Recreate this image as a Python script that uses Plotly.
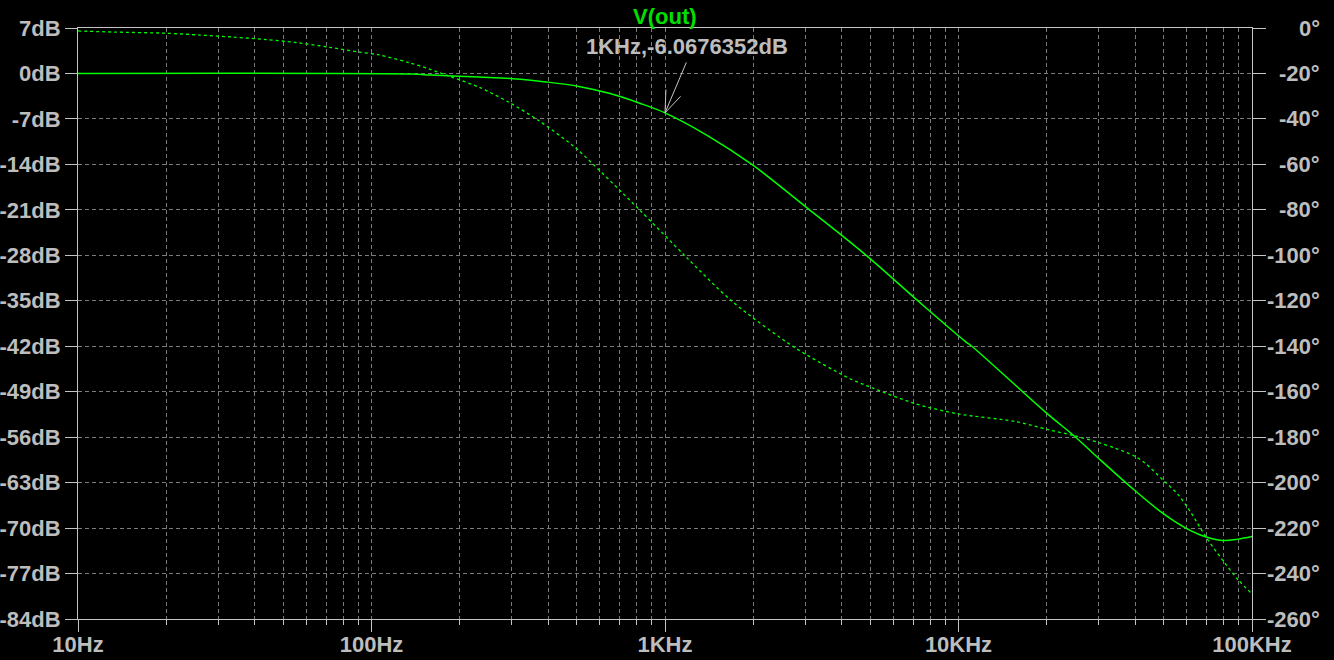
import plotly.graph_objects as go

# ---- data ----
mag_freq = [10, 137, 160, 233, 303, 393, 509, 650, 816, 1000, 1400, 1982, 3010, 4817, 7310,
            10540, 11100, 19960, 24900, 29900, 39600, 49600, 59500, 69000, 79200,
            89600, 100000]
mag_db = [0.0, -0.1, -0.25, -0.55, -0.8, -1.3, -2.0, -3.1, -4.55, -6.07, -9.6, -14.05, -20.5,
          -27.9, -35.1, -41.25, -42.0, -52.3, -55.9, -59.2, -64.1, -67.7, -70.0,
          -71.3, -71.9, -71.7, -71.3]

ph_freq = [10, 13.4, 20, 26, 33.7, 43.8, 55.5, 71.9, 91, 106, 134, 157, 185, 233,
           294, 372, 470, 509, 816, 1175, 1694, 2784, 4226, 4940, 7125, 10000,
           15600, 20200, 24900, 29900, 34100, 39600, 43200, 49600, 56000, 62100,
           69500, 79200, 89600, 100000]
ph_deg = [-1.3, -1.8, -2.3, -3.1, -4.0, -5.1, -6.4, -8.5, -10.6, -11.8, -15.2,
          -18.0, -21.3, -26.1, -32.7, -40.8, -50.3, -54.0, -79.8, -100.5, -120.3,
          -140.8, -154.0, -157.7, -165.3, -169.8, -173.1, -176.7, -179.4, -182.3,
          -184.8, -188.2, -191.4, -198.7, -205.3, -213.4, -223.7, -233.9, -242.7,
          -249.0]

x_major = [10, 100, 1000, 10000, 100000]
x_labels = ["10Hz", "100Hz", "1KHz", "10KHz", "100KHz"]
db_ticks = [7, 0, -7, -14, -21, -28, -35, -42, -49, -56, -63, -70, -77, -84]
db_labels = ["7dB", "0dB", "-7dB", "-14dB", "-21dB", "-28dB", "-35dB", "-42dB",
             "-49dB", "-56dB", "-63dB", "-70dB", "-77dB", "-84dB"]
deg_ticks = [0, -20, -40, -60, -80, -100, -120, -140, -160, -180, -200, -220, -240, -260]
deg_labels = ["0°", "-20°", "-40°", "-60°", "-80°", "-100°", "-120°", "-140°",
              "-160°", "-180°", "-200°", "-220°", "-240°", "-260°"]
marker_freq = 1000
marker_db = -6.0676352
marker_text = "1KHz,-6.0676352dB"
title_text = "V(out)"

# ---- styling ----
GREEN = "#00ff00"
TXT = "#bdbdbd"
AXC = "#c4c4c4"
GRID = "#7a7a7a"
FONT = "Liberation Sans, Arial, sans-serif"

x_minor = [d * m for d in [10, 100, 1000, 10000] for m in range(2, 10)]

fig = go.Figure()
fig.add_trace(go.Scatter(x=mag_freq, y=mag_db, mode="lines", yaxis="y",
                         line=dict(color=GREEN, width=1.5, shape="spline", smoothing=1.0),
                         showlegend=False, hoverinfo="skip"))
fig.add_trace(go.Scatter(x=ph_freq, y=ph_deg, mode="lines", yaxis="y2",
                         line=dict(color=GREEN, width=1.3, dash="dot", shape="spline", smoothing=0.8),
                         showlegend=False, hoverinfo="skip"))

tickfont = dict(family=FONT, size=22, color=TXT, weight="bold")

fig.update_layout(
    width=1334, height=660,
    paper_bgcolor="black", plot_bgcolor="black",
    margin=dict(l=78, r=82, t=28, b=41, pad=0),
    showlegend=False,
    xaxis=dict(type="log", range=[1, 5], tickmode="array", tickvals=x_major,
               ticktext=x_labels, ticks="outside", ticklen=12, tickcolor=AXC, tickwidth=1,
               showline=True, linecolor=AXC, linewidth=1, mirror=True, automargin=False,
               showgrid=True, gridcolor=GRID, griddash="4px,3px", gridwidth=1,
               tickfont=tickfont, zeroline=False, ticklabelstandoff=-6,
               minor=dict(tickmode="array", tickvals=x_minor, ticks="outside", ticklen=5,
                          tickcolor=AXC, showgrid=True, gridcolor=GRID,
                          griddash="4px,3px", gridwidth=1)),
    yaxis=dict(range=[-84, 7], tickmode="array", tickvals=db_ticks, ticktext=db_labels,
               ticks="outside", ticklen=12, tickcolor=AXC, showline=True, linecolor=AXC,
               linewidth=1, showgrid=True, gridcolor=GRID, griddash="4px,3px",
               gridwidth=1, zeroline=False, tickfont=tickfont, automargin=False),
    yaxis2=dict(range=[-260, 0], overlaying="y", side="right", tickmode="array",
                tickvals=deg_ticks, ticktext=["" for _ in deg_ticks], ticks="outside",
                ticklen=13, tickcolor=AXC, showline=True, linecolor=AXC, linewidth=1,
                showgrid=False, zeroline=False, tickfont=tickfont, automargin=False),
)

# right-hand labels, right aligned like the reference
for v, t in zip(deg_ticks, deg_labels):
    fig.add_annotation(x=1, xref="paper", y=v, yref="y2", text=t, showarrow=False,
                       xanchor="right", xshift=70, font=tickfont)

# title
fig.add_annotation(x=0.5, xref="paper", y=1, yref="paper", text=title_text,
                   showarrow=False, yanchor="bottom", yshift=-3,
                   font=dict(family=FONT, size=22, color="#00e000", weight="bold"))

# cursor label with open arrow
lx = 3  # log10(marker_freq)
fig.add_annotation(x=lx, y=marker_db, xref="x", yref="y", text=marker_text,
                   showarrow=False, xshift=22, yshift=66,
                   font=dict(family=FONT, size=22, color=TXT, weight="bold"))
for ax_, ay_ in [(22, -52), (1, -25), (17, -18)]:
    fig.add_annotation(x=lx, y=marker_db, xref="x", yref="y", text="",
                       showarrow=True, arrowhead=0, arrowwidth=1, arrowcolor=AXC,
                       ax=ax_, ay=ay_, axref="pixel", ayref="pixel", standoff=0)

# remove the browser's default 8px page margin so the figure fills the window
fig.write_html("out.html", config={"displayModeBar": False},
               post_script="document.body.style.margin='0';document.body.style.background='black';")
